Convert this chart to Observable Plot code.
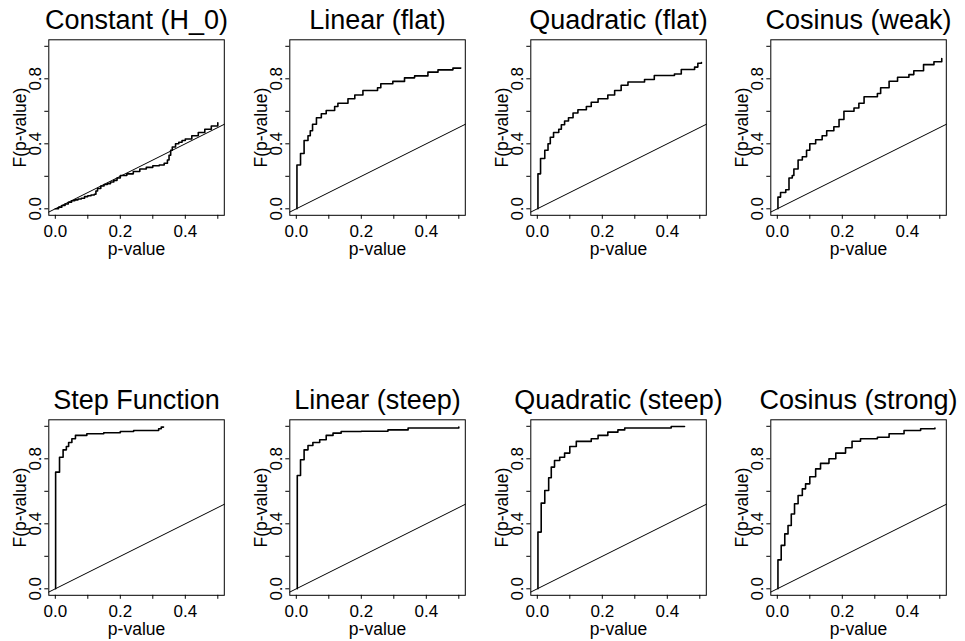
<!DOCTYPE html>
<html>
<head>
<meta charset="utf-8">
<script src="https://cdn.jsdelivr.net/npm/d3@7"></script>
<script src="https://cdn.jsdelivr.net/npm/@observablehq/plot@0.6"></script>
<style>
  body { margin: 0; background: #fff; }
  #chart { position: relative; width: 965px; height: 641px; overflow: hidden; background: #fff;
           font-family: "Liberation Sans", Arial, Helvetica, sans-serif; }
  .panel { position: absolute; }
  .panel svg { overflow: visible; }
</style>
</head>
<body>
<div id="chart"></div>
<script>
// ---------- data ----------
const panelTitles = ["Constant (H_0)", "Linear (flat)", "Quadratic (flat)", "Cosinus (weak)",
                     "Step Function", "Linear (steep)", "Quadratic (steep)", "Cosinus (strong)"];

const constantP = [0, 0.01, 0.02, 0.03, 0.04, 0.05, 0.06, 0.07, 0.08, 0.09, 0.10, 0.11, 0.12, 0.125, 0.13,
  0.14, 0.15, 0.16, 0.17, 0.18, 0.19, 0.20, 0.22, 0.24, 0.26, 0.28, 0.30, 0.32, 0.335, 0.345, 0.35, 0.355, 0.36,
  0.37, 0.38, 0.39, 0.40, 0.42, 0.44, 0.46, 0.48, 0.50];
const constantF = [0, 0.01, 0.02, 0.03, 0.04, 0.05, 0.055, 0.06, 0.065, 0.075, 0.08, 0.085, 0.09, 0.11, 0.125,
  0.14, 0.15, 0.155, 0.165, 0.175, 0.19, 0.205, 0.215, 0.23, 0.245, 0.255, 0.265, 0.27, 0.28, 0.30, 0.33, 0.36, 0.38,
  0.40, 0.41, 0.42, 0.43, 0.45, 0.47, 0.49, 0.51, 0.53];

const linearFlatP = [0.002, 0.002, 0.013, 0.024, 0.036, 0.043, 0.05, 0.062, 0.077, 0.092, 0.118, 0.128, 0.159,
  0.18, 0.205, 0.25, 0.26, 0.297, 0.333, 0.364, 0.405, 0.436, 0.482, 0.506];
const linearFlatF = [0, 0.27, 0.34, 0.42, 0.45, 0.48, 0.52, 0.56, 0.585, 0.605, 0.63, 0.65, 0.677,
  0.70, 0.728, 0.745, 0.77, 0.784, 0.806, 0.818, 0.841, 0.855, 0.866, 0.866];

const quadFlatP = [0.002, 0.002, 0.01, 0.023, 0.033, 0.04, 0.05, 0.066, 0.074, 0.084, 0.096, 0.11, 0.125, 0.151,
  0.166, 0.187, 0.217, 0.238, 0.258, 0.279, 0.33, 0.36, 0.422, 0.443, 0.484, 0.494, 0.505];
const quadFlatF = [0, 0.215, 0.31, 0.36, 0.40, 0.44, 0.47, 0.49, 0.517, 0.54, 0.56, 0.59, 0.61, 0.63,
  0.656, 0.677, 0.70, 0.728, 0.76, 0.78, 0.796, 0.82, 0.83, 0.857, 0.872, 0.896, 0.90];

const cosWeakP = [0.002, 0.002, 0.01, 0.026, 0.036, 0.046, 0.051, 0.064, 0.077, 0.09, 0.10, 0.118, 0.138, 0.152,
  0.174, 0.19, 0.205, 0.236, 0.251, 0.267, 0.308, 0.318, 0.344, 0.37, 0.405, 0.42, 0.45, 0.482, 0.506];
const cosWeakF = [0, 0.072, 0.10, 0.117, 0.19, 0.205, 0.245, 0.30, 0.32, 0.36, 0.40, 0.425, 0.45, 0.48,
  0.505, 0.55, 0.60, 0.62, 0.65, 0.69, 0.71, 0.745, 0.785, 0.81, 0.826, 0.85, 0.887, 0.905, 0.925];

const stepFunP = [0.001, 0.001, 0.013, 0.024, 0.034, 0.041, 0.051, 0.062, 0.097, 0.149, 0.2, 0.241, 0.318, 0.326, 0.333];
const stepFunF = [0, 0.718, 0.81, 0.855, 0.876, 0.90, 0.923, 0.944, 0.954, 0.96, 0.968, 0.974, 0.985, 0.995, 0.995];

const linearSteepP = [0.003, 0.003, 0.013, 0.024, 0.036, 0.051, 0.072, 0.092, 0.113, 0.138, 0.2, 0.282, 0.344, 0.50];
const linearSteepF = [0, 0.697, 0.794, 0.855, 0.882, 0.90, 0.917, 0.944, 0.958, 0.968, 0.97, 0.978, 0.99, 0.995];

const quadSteepP = [0.002, 0.002, 0.012, 0.023, 0.035, 0.043, 0.053, 0.069, 0.084, 0.1, 0.12, 0.166, 0.187, 0.217,
  0.248, 0.269, 0.412, 0.453];
const quadSteepF = [0, 0.349, 0.527, 0.605, 0.683, 0.749, 0.79, 0.81, 0.835, 0.876, 0.907, 0.923, 0.944, 0.964,
  0.978, 0.99, 0.999, 0.999];

const cosStrongP = [0.002, 0.002, 0.012, 0.023, 0.033, 0.043, 0.053, 0.064, 0.077, 0.087, 0.1, 0.118, 0.133, 0.159,
  0.18, 0.21, 0.23, 0.256, 0.308, 0.344, 0.39, 0.441, 0.485];
const cosStrongF = [0, 0.178, 0.267, 0.338, 0.39, 0.46, 0.523, 0.574, 0.615, 0.646, 0.69, 0.738, 0.772, 0.80,
  0.835, 0.868, 0.908, 0.923, 0.933, 0.954, 0.974, 0.985, 0.99];

const xTicks = [0, 0.1, 0.2, 0.3, 0.4, 0.5];
const xTickLabels = ["0.0", "", "0.2", "", "0.4", ""];
const yTicks = [0, 0.2, 0.4, 0.6, 0.8, 1.0];
const yTickLabels = ["0.0", "", "0.4", "", "0.8", ""];
const xLabel = "p-value";
const yLabel = "F(p-value)";
const xDomain = [-0.02, 0.52];
const yDomain = [-0.04, 1.04];

// ---------- build ----------
const seriesP = [constantP, linearFlatP, quadFlatP, cosWeakP, stepFunP, linearSteepP, quadSteepP, cosStrongP];
const seriesF = [constantF, linearFlatF, quadFlatF, cosWeakF, stepFunF, linearSteepF, quadSteepF, cosStrongF];

const W = 241, H = 270;
const mL = 48.3, mT = 39.3, box = 175.5;
const font = '"Liberation Sans", Arial, Helvetica, sans-serif';
const chart = document.getElementById("chart");

panelTitles.forEach((title, k) => {
  const col = k % 4, row = Math.floor(k / 4);
  const data = seriesP[k].map((p, i) => ({p, F: seriesF[k][i]}));
  const svg = Plot.plot({
    width: W,
    height: H,
    marginLeft: mL,
    marginTop: mT,
    marginRight: W - mL - box,
    marginBottom: H - mT - box,
    style: {fontFamily: font, fontSize: "17px", background: "transparent", overflow: "visible", color: "black"},
    x: {domain: xDomain},
    y: {domain: yDomain},
    marks: [
      Plot.frame({stroke: "black", strokeWidth: 1}),
      Plot.axisX({ticks: xTicks, tickSize: 4, tickPadding: 5.5, fontSize: 17,
        tickFormat: d => xTickLabels[xTicks.indexOf(d)], label: null}),
      Plot.axisY({ticks: yTicks, tickSize: 4, tickPadding: 4.2, tickRotate: -90, fontSize: 17,
        tickFormat: d => yTickLabels[yTicks.indexOf(d)], label: null}),
      Plot.line(xDomain, {x: d => d, y: d => d, stroke: "black", strokeWidth: 1}),
      Plot.line(data, {x: "p", y: "F", curve: "step-after", stroke: "black", strokeWidth: 1.6}),
      Plot.text([title], {frameAnchor: "top", dy: -11, lineAnchor: "bottom", fontSize: 27, fill: "black"}),
      Plot.text([xLabel], {frameAnchor: "bottom", dy: 39.5, lineAnchor: "bottom", fontSize: 17.5, fill: "black"}),
      Plot.text([yLabel], {frameAnchor: "left", dx: -23.3, rotate: -90, lineAnchor: "bottom",
        textAnchor: "middle", fontSize: 17.5, fill: "black"})
    ]
  });
  const div = document.createElement("div");
  div.className = "panel";
  div.style.left = (col * 240.8) + "px";
  div.style.top = (row * 380) + "px";
  div.appendChild(svg);
  chart.appendChild(div);
});
</script>
</body>
</html>
